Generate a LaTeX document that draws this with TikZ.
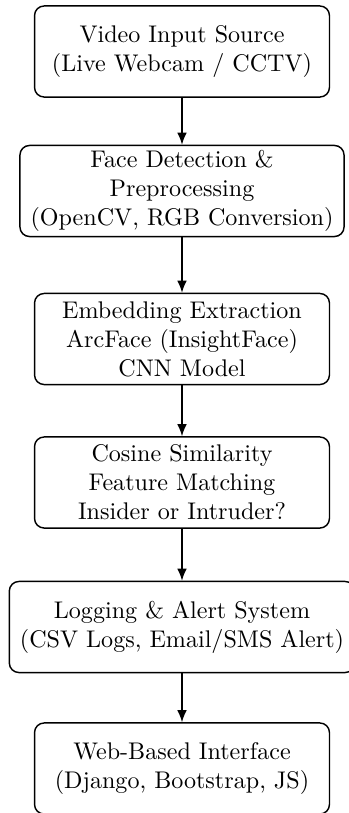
\documentclass[tikz,border=0pt]{standalone}
\usetikzlibrary{arrows.meta}
\begin{document}
\begin{tikzpicture}[x=0.415pt,y=-0.415pt,
  stage/.style={draw, rounded corners=4pt, align=center,
    minimum width=122.4pt, minimum height=37.8pt,
    inner xsep=4.4pt, inner ysep=2pt, line width=0.6pt},
  flow/.style={-{Latex[length=5pt,width=4pt]}, line width=0.6pt}]
  \useasboundingbox (0,0) rectangle (349,813);
  \node[stage] (src)  at (182,51.5) {Video Input Source\\(Live Webcam / CCTV)};
  \node[stage] (det)  at (182,191) {Face Detection \&\\Preprocessing\\(OpenCV, RGB Conversion)};
  \node[stage] (emb)  at (182,339) {Embedding Extraction\\ArcFace (InsightFace)\\CNN Model};
  \node[stage] (cos)  at (182,482.5) {Cosine Similarity\\Feature Matching\\Insider or Intruder?};
  \node[stage] (log)  at (182,627) {Logging \& Alert System\\(CSV Logs, Email/SMS Alert)};
  \node[stage] (web)  at (182,768.5) {Web-Based Interface\\(Django, Bootstrap, JS)};
  \draw[flow] (src) -- (det);
  \draw[flow] (det) -- (emb);
  \draw[flow] (emb) -- (cos);
  \draw[flow] (cos) -- (log);
  \draw[flow] (log) -- (web);
\end{tikzpicture}
\end{document}
